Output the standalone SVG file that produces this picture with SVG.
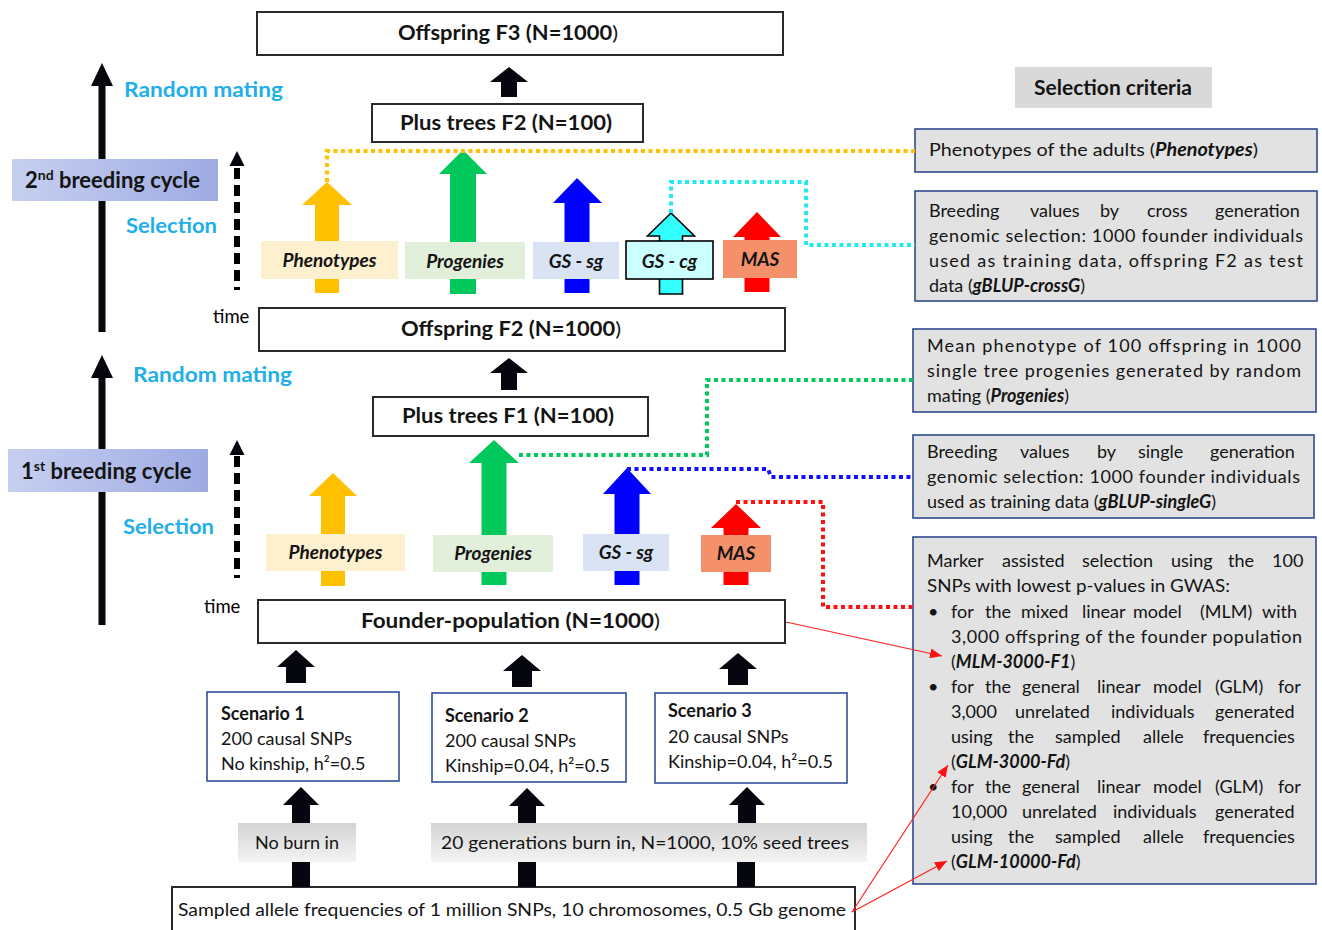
<svg xmlns="http://www.w3.org/2000/svg" width="1322" height="930" viewBox="0 0 1322 930">
<defs>
<style>
text{font-family:Lato,"Open Sans","Liberation Sans",sans-serif;fill:#141414}
.box{fill:#fff;stroke:#2a2a2a;stroke-width:2}
.title{font-size:20px;font-weight:700}
.lbl{font-size:19px;font-weight:700;font-style:italic}
.cy{fill:#22aee8;font-size:21px;font-weight:700}
.cyc{font-size:22px;font-weight:700}
.time{font-size:18.5px;fill:#000}
.body{font-size:18px}
.bi{font-weight:700;font-style:italic}
.nb{font-weight:400;font-style:normal}
.crit{fill:#e2e2e2;stroke:#2f4b8c;stroke-width:1.6}
.scen{fill:#fff;stroke:#2f4f9a;stroke-width:1.6}
.dot{fill:none;stroke-width:4;stroke-dasharray:4 3.5}
.blk{fill:#06060f}
.red{fill:none;stroke:#ff2020;stroke-width:1.2}
</style>
<linearGradient id="cyg" x1="0" y1="0" x2="1" y2="0">
<stop offset="0" stop-color="#c7cff0"/><stop offset="1" stop-color="#9eabe3"/>
</linearGradient>
<linearGradient id="gry" x1="0" y1="0" x2="0" y2="1">
<stop offset="0" stop-color="#d3d3d3"/><stop offset="1" stop-color="#f4f4f4"/>
</linearGradient>
<marker id="ra" viewBox="0 0 12 10" refX="12" refY="5" markerWidth="12" markerHeight="10" orient="auto" markerUnits="userSpaceOnUse">
<path d="M0,0 L12,5 L0,10 z" fill="#ff1010"/>
</marker>
</defs>

<!-- left timeline -->
<g id="timeline">
<polygon class="blk" points="102,63 113,86 105.5,86 105.5,332 98.5,332 98.5,86 91,86"/>
<polygon class="blk" points="102,355 113,378 105.5,378 105.5,625 98.5,625 98.5,378 91,378"/>
<line x1="237" y1="168" x2="237" y2="290" stroke="#000" stroke-width="6" stroke-dasharray="11 6"/>
<polygon class="blk" points="237,151 244.5,166 229.5,166"/>
<line x1="237" y1="456" x2="237" y2="578" stroke="#000" stroke-width="6" stroke-dasharray="11 6"/>
<polygon class="blk" points="237,440 244.5,455 229.5,455"/>
<text class="cy" x="124" y="97" textLength="159" lengthAdjust="spacingAndGlyphs">Random mating</text>
<text class="cy" x="126" y="233" textLength="91" lengthAdjust="spacingAndGlyphs">Selection</text>
<text class="cy" x="133" y="382" textLength="159" lengthAdjust="spacingAndGlyphs">Random mating</text>
<text class="cy" x="123" y="534" textLength="91" lengthAdjust="spacingAndGlyphs">Selection</text>
<text class="time" x="213" y="323">time</text>
<text class="time" x="204" y="613">time</text>
</g>

<g id="cycle2">
<rect x="12" y="159" width="206" height="42" fill="url(#cyg)"/>
<text class="cyc" x="25" y="188">2<tspan font-size="14" dy="-8">nd</tspan><tspan dy="8"> breeding cycle</tspan></text>
</g>
<g id="cycle1">
<rect x="8" y="449" width="200" height="43" fill="url(#cyg)"/>
<text class="cyc" x="21" y="479">1<tspan font-size="14" dy="-8">st</tspan><tspan dy="8"> breeding cycle</tspan></text>
</g>

<!-- main population boxes -->
<g id="f3"><rect class="box" x="257" y="12" width="526" height="43"/>
<text class="title" x="398" y="40" textLength="220" lengthAdjust="spacingAndGlyphs">Offspring F3 (N=1000<tspan class="nb">)</tspan></text></g>
<g id="plusF2"><rect class="box" x="372" y="104" width="271" height="38"/>
<text class="title" x="400" y="130" textLength="212" lengthAdjust="spacingAndGlyphs">Plus trees F2 (N=100)</text></g>
<g id="f2"><rect class="box" x="259" y="308" width="526" height="43"/>
<text class="title" x="401" y="336" textLength="220" lengthAdjust="spacingAndGlyphs">Offspring F2 (N=1000<tspan class="nb">)</tspan></text></g>
<g id="plusF1"><rect class="box" x="373" y="397" width="275" height="39"/>
<text class="title" x="402" y="423" textLength="212" lengthAdjust="spacingAndGlyphs">Plus trees F1 (N=100)</text></g>
<g id="founder"><rect class="box" x="258" y="600" width="527" height="43"/>
<text class="title" x="361" y="628" textLength="299" lengthAdjust="spacingAndGlyphs">Founder-population (N=1000<tspan class="nb">)</tspan></text></g>

<!-- selection arrows, 2nd cycle -->
<g id="sel2-phen">
<polygon fill="#ffc000" points="327,182 352,205 339,205 339,293 315,293 315,205 302,205"/>
<rect x="261" y="241" width="137" height="38" fill="#fdf0cf"/>
<text class="lbl" x="329.5" y="267" text-anchor="middle">Phenotypes</text>
</g>
<g id="sel2-prog">
<polygon fill="#00c85a" points="463,150 487,174 476,174 476,294 450,294 450,174 439,174"/>
<rect x="405" y="242" width="120" height="37" fill="#e2efda"/>
<text class="lbl" x="465" y="268" text-anchor="middle">Progenies</text>
</g>
<g id="sel2-gssg">
<polygon fill="#0000ff" points="577,178 602,203 589.5,203 589.5,293 564.5,293 564.5,203 553,203"/>
<rect x="533" y="242" width="86" height="37" fill="#dae3f3"/>
<text class="lbl" x="576" y="268" text-anchor="middle">GS - sg</text>
</g>
<g id="sel2-gscg">
<polygon fill="#33ffff" stroke="#000" stroke-width="1.6" points="671,213 694.5,236 682.5,236 682.5,294 659.5,294 659.5,236 647.5,236"/>
<rect x="626" y="241" width="87" height="38" fill="#ccffff" stroke="#000" stroke-width="1.6"/>
<text class="lbl" x="669.5" y="268" text-anchor="middle">GS - cg</text>
</g>
<g id="sel2-mas">
<polygon fill="#ff0000" points="757,212 781,237 769.5,237 769.5,292 744.5,292 744.5,237 733,237"/>
<rect x="723" y="240" width="74" height="38" fill="#f4916b"/>
<text class="lbl" x="760" y="266" text-anchor="middle">MAS</text>
</g>

<!-- selection arrows, 1st cycle -->
<g id="sel1-phen">
<polygon fill="#ffc000" points="333,473 357,496 345,496 345,586 321,586 321,496 309,496"/>
<rect x="266" y="534" width="139" height="37" fill="#fdf0cf"/>
<text class="lbl" x="335.5" y="559" text-anchor="middle">Phenotypes</text>
</g>
<g id="sel1-prog">
<polygon fill="#00c85a" points="494,440 519,463 506.5,463 506.5,585 481.5,585 481.5,463 469,463"/>
<rect x="433" y="535" width="120" height="37" fill="#e2efda"/>
<text class="lbl" x="493" y="560" text-anchor="middle">Progenies</text>
</g>
<g id="sel1-gssg">
<polygon fill="#0000ff" points="627,468 651,494 639.5,494 639.5,585 614.5,585 614.5,494 603,494"/>
<rect x="583" y="534" width="86" height="37" fill="#dae3f3"/>
<text class="lbl" x="626" y="559" text-anchor="middle">GS - sg</text>
</g>
<g id="sel1-mas">
<polygon fill="#ff0000" points="736,504 761,528 748.5,528 748.5,585 723.5,585 723.5,528 711,528"/>
<rect x="701" y="535" width="70" height="37" fill="#f4916b"/>
<text class="lbl" x="736" y="560" text-anchor="middle">MAS</text>
</g>

<!-- scenarios -->
<g id="scenario1"><rect class="scen" x="207" y="692" width="192" height="89"/>
<text class="body" x="221" y="720" font-weight="700">Scenario 1</text>
<text class="body" x="221" y="745">200 causal SNPs</text>
<text class="body" x="221" y="770">No kinship, h²=0.5</text></g>
<g id="scenario2"><rect class="scen" x="432" y="693" width="194" height="89"/>
<text class="body" x="445" y="722" font-weight="700">Scenario 2</text>
<text class="body" x="445" y="747">200 causal SNPs</text>
<text class="body" x="445" y="772">Kinship=0.04, h²=0.5</text></g>
<g id="scenario3"><rect class="scen" x="655" y="693" width="192" height="90"/>
<text class="body" x="668" y="717" font-weight="700">Scenario 3</text>
<text class="body" x="668" y="743">20 causal SNPs</text>
<text class="body" x="668" y="768">Kinship=0.04, h²=0.5</text></g>

<g id="noburn"><rect x="238" y="823" width="118" height="39" fill="url(#gry)"/>
<text class="body" x="297" y="849" text-anchor="middle">No burn in</text></g>
<g id="burn"><rect x="431" y="823" width="436" height="39" fill="url(#gry)"/>
<text class="body" x="441" y="849" textLength="408" lengthAdjust="spacingAndGlyphs">20 generations burn in, N=1000, 10% seed trees</text></g>

<g id="sampled"><rect x="172" y="887" width="683" height="50" fill="#fff" stroke="#2a2a2a" stroke-width="2"/>
<text class="body" x="178" y="916" textLength="668" lengthAdjust="spacingAndGlyphs">Sampled allele frequencies of 1 million SNPs, 10 chromosomes, 0.5 Gb genome</text></g>

<!-- selection criteria -->
<g id="crit-title"><rect x="1015" y="67" width="197" height="41" fill="#d9d9d9"/>
<text x="1113" y="95" text-anchor="middle" font-size="21" font-weight="700">Selection criteria</text></g>

<g id="crit-phen"><rect class="crit" x="915" y="129" width="402" height="43"/>
<text class="body" x="929" y="156" textLength="329" lengthAdjust="spacingAndGlyphs">Phenotypes of the adults (<tspan class="bi">Phenotypes</tspan>)</text></g>

<g id="crit-gscg"><rect class="crit" x="915" y="191" width="402" height="110"/>
<text class="body" y="217"><tspan x="929">Breeding</tspan><tspan x="1030">values</tspan><tspan x="1100">by</tspan><tspan x="1147">cross</tspan><tspan x="1215">generation</tspan></text>
<text class="body" x="929" y="242" textLength="374" lengthAdjust="spacing">genomic selection: 1000 founder individuals</text>
<text class="body" x="929" y="267" textLength="374" lengthAdjust="spacing">used as training data, offspring F2 as test</text>
<text class="body" x="929" y="292">data (<tspan class="bi">gBLUP-crossG</tspan>)</text></g>

<g id="crit-prog"><rect class="crit" x="913" y="329" width="403" height="83"/>
<text class="body" x="927" y="352" textLength="374" lengthAdjust="spacing">Mean phenotype of 100 offspring in 1000</text>
<text class="body" x="927" y="377" textLength="374" lengthAdjust="spacing">single tree progenies generated by random</text>
<text class="body" x="927" y="402">mating (<tspan class="bi">Progenies</tspan>)</text></g>

<g id="crit-gssg"><rect class="crit" x="913" y="435" width="401" height="83"/>
<text class="body" y="458"><tspan x="927">Breeding</tspan><tspan x="1020">values</tspan><tspan x="1097">by</tspan><tspan x="1138">single</tspan><tspan x="1210">generation</tspan></text>
<text class="body" x="927" y="483" textLength="373" lengthAdjust="spacing">genomic selection: 1000 founder individuals</text>
<text class="body" x="927" y="508">used as training data (<tspan class="bi">gBLUP-singleG</tspan>)</text></g>

<g id="crit-mas"><rect class="crit" x="913" y="537" width="403" height="347"/>
<text class="body" y="567"><tspan x="927">Marker</tspan><tspan x="1002">assisted</tspan><tspan x="1082">selection</tspan><tspan x="1171">using</tspan><tspan x="1228">the</tspan><tspan x="1272">100</tspan></text>
<text class="body" x="927" y="592" textLength="303" lengthAdjust="spacingAndGlyphs">SNPs with lowest p-values in GWAS:</text>
<text class="body" y="618"><tspan x="928">•</tspan><tspan x="951">for</tspan><tspan x="985">the</tspan><tspan x="1021">mixed</tspan><tspan x="1082">linear</tspan><tspan x="1133">model</tspan><tspan x="1200">(MLM)</tspan><tspan x="1262">with</tspan></text>
<text class="body" x="951" y="643" textLength="351" lengthAdjust="spacing">3,000 offspring of the founder population</text>
<text class="body" x="951" y="668">(<tspan class="bi">MLM-3000-F1</tspan>)</text>
<text class="body" y="693"><tspan x="928">•</tspan><tspan x="951">for</tspan><tspan x="985">the</tspan><tspan x="1022">general</tspan><tspan x="1097">linear</tspan><tspan x="1153">model</tspan><tspan x="1215">(GLM)</tspan><tspan x="1278">for</tspan></text>
<text class="body" y="718"><tspan x="951">3,000</tspan><tspan x="1015">unrelated</tspan><tspan x="1111">individuals</tspan><tspan x="1215">generated</tspan></text>
<text class="body" y="743"><tspan x="951">using</tspan><tspan x="1008">the</tspan><tspan x="1055">sampled</tspan><tspan x="1143">allele</tspan><tspan x="1203">frequencies</tspan></text>
<text class="body" x="951" y="768">(<tspan class="bi">GLM-3000-Fd</tspan>)</text>
<text class="body" y="793"><tspan x="928">•</tspan><tspan x="951">for</tspan><tspan x="985">the</tspan><tspan x="1022">general</tspan><tspan x="1097">linear</tspan><tspan x="1153">model</tspan><tspan x="1215">(GLM)</tspan><tspan x="1278">for</tspan></text>
<text class="body" y="818"><tspan x="951">10,000</tspan><tspan x="1022">unrelated</tspan><tspan x="1113">individuals</tspan><tspan x="1215">generated</tspan></text>
<text class="body" y="843"><tspan x="951">using</tspan><tspan x="1008">the</tspan><tspan x="1055">sampled</tspan><tspan x="1143">allele</tspan><tspan x="1203">frequencies</tspan></text>
<text class="body" x="951" y="868">(<tspan class="bi">GLM-10000-Fd</tspan>)</text>
</g>

<!-- connectors -->
<g id="connectors">
<polygon class="blk" points="509,67 528,82 517,82 517,97 501,97 501,82 490,82"/>
<polygon class="blk" points="509,358 528,373 517,373 517,390 501,390 501,373 490,373"/>
<polygon class="blk" points="296,650 315,667 306,667 306,683 286,683 286,667 277,667"/>
<polygon class="blk" points="522,655 541,671 532,671 532,687 512,687 512,671 503,671"/>
<polygon class="blk" points="738,653 757,669 748,669 748,685 728,685 728,669 719,669"/>
<polygon class="blk" points="301,787 319,805 310,805 310,823 292,823 292,805 283,805"/>
<polygon class="blk" points="527,788 545,806 536,806 536,823 518,823 518,806 509,806"/>
<polygon class="blk" points="747,787 765,805 756,805 756,823 738,823 738,805 729,805"/>
<rect class="blk" x="292" y="862" width="18" height="25"/>
<rect class="blk" x="518" y="862" width="18" height="25"/>
<rect class="blk" x="737" y="862" width="18" height="25"/>

<path class="dot" stroke="#ffc000" d="M327,182 V151 H915"/>
<path class="dot" stroke="#22e8f2" d="M671,213 V182 H806 V245 H915"/>
<path class="dot" stroke="#00c85a" d="M519,455 H707 V380 H913"/>
<path class="dot" stroke="#1010ff" d="M627,469 H768 L771,477 H913"/>
<path class="dot" stroke="#ff1010" d="M736,502 H823 V607 H913"/>

<path class="red" d="M786,622 L942,656" marker-end="url(#ra)"/>
<path class="red" d="M852,912 L948,765" marker-end="url(#ra)"/>
<path class="red" d="M852,912 L947,861" marker-end="url(#ra)"/>
</g>
</svg>
